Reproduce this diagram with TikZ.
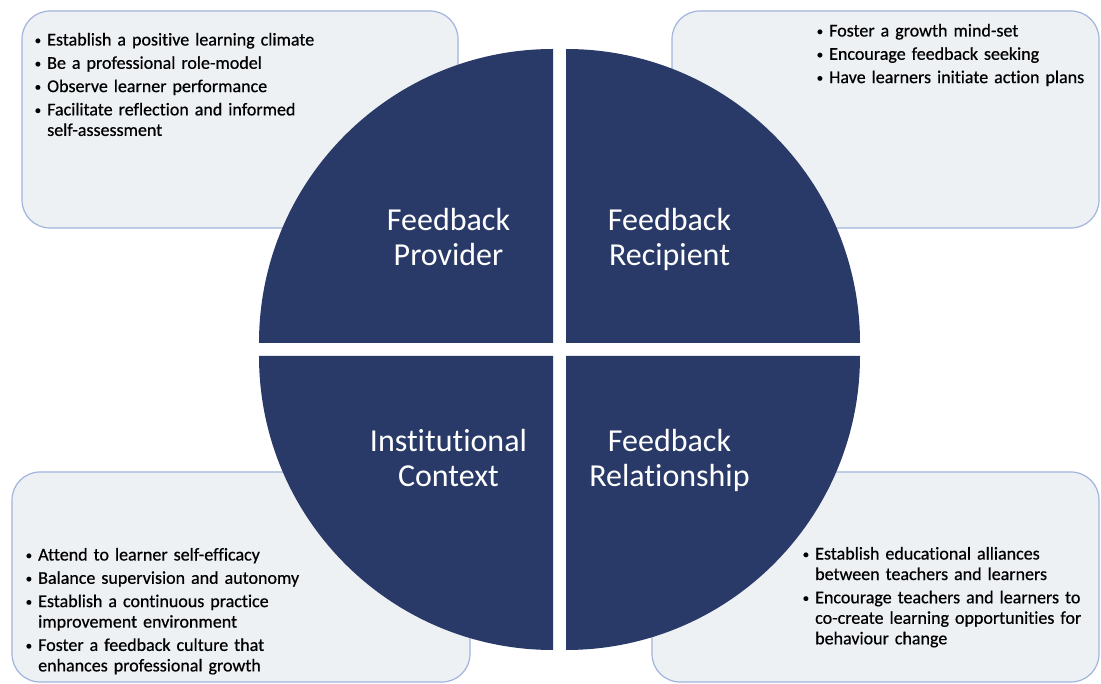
\documentclass[tikz,border=0pt]{standalone}
\usepackage{fontspec}
\setmainfont{Carlito}[Ligatures=NoCommon]
\newfontfamily\listfont{Carlito}[Ligatures=NoCommon,UprightFeatures={FakeBold=0.6}]
\definecolor{navy}{RGB}{42,58,104}
\definecolor{boxfill}{RGB}{238,241,244}
\definecolor{boxline}{RGB}{160,180,222}
\newcommand{\bitem}[1]{\par\hangindent=12pt\hangafter=1\noindent\makebox[12pt][l]{\rule{0pt}{14pt}\hspace{-0.5pt}\raisebox{1pt}{\fontsize{13}{13}\selectfont\textbullet}}#1}
\begin{document}
\begin{tikzpicture}[x=1pt,y=-1pt,
  boxst/.style={fill=boxfill,draw=boxline,line width=1.2pt,rounded corners=28pt},
  listst/.style={anchor=north west,inner sep=0pt,text width=#1,align=left,font=\listfont\fontsize{18}{20.5}\selectfont},
  quad/.style={fill=navy},
  lab/.style={text=white,font=\fontsize{32}{35}\selectfont,align=center,anchor=north,inner sep=0pt}]
\useasboundingbox (0,0) rectangle (1101,684);
\fill[white] (0,0) rectangle (1101,684);
% boxes
\draw[boxst] (22,11) rectangle (458,228);
\draw[boxst] (672,11) rectangle (1099,228);
\draw[boxst] (12,472) rectangle (470,682);
\draw[boxst] (652,472) rectangle (1099,682);
% quadrants
\fill[quad] (553,343) -- ++(-294,0) arc[start angle=180,end angle=270,radius=294] -- cycle;
\fill[quad] (566,343) -- ++(0,-294) arc[start angle=270,end angle=360,radius=294] -- cycle;
\fill[quad] (553,356) -- ++(0,294) arc[start angle=90,end angle=180,radius=294] -- cycle;
\fill[quad] (566,356) -- ++(294,0) arc[start angle=0,end angle=90,radius=294] -- cycle;
% labels
\node[lab] (provider) at (448.5,205) {\rule{0pt}{25pt}Feedback\\Provider};
\node[lab] (recipient) at (669.5,205) {\rule{0pt}{25pt}Feedback\\Recipient};
\node[lab] (context) at (448.5,426.6) {\rule{0pt}{25pt}Institutional\\Context};
\node[lab] (relation) at (669.5,426.6) {\rule{0pt}{25pt}Feedback\\Relationship};
% lists
\node[listst=400pt] (tl) at (35,22) {\setlength{\parskip}{2.8pt}%
\bitem{Establish a positive learning climate}
\bitem{Be a professional role-model}
\bitem{Observe learner performance}
\bitem{Facilitate reflection and informed\newline self-assessment}\par};
\node[listst=280pt] (tr) at (817,13) {\setlength{\parskip}{2.8pt}%
\bitem{Foster a growth mind-set}
\bitem{Encourage feedback seeking}
\bitem{Have learners initiate action plans}\par};
\node[listst=400pt] (bl) at (26,537) {\setlength{\parskip}{2.8pt}%
\bitem{Attend to learner self-efficacy}
\bitem{Balance supervision and autonomy}
\bitem{Establish a continuous practice\newline improvement environment}
\bitem{Foster a feedback culture that\newline enhances professional growth}\par};
\node[listst=290pt] (br) at (803,536) {\setlength{\parskip}{2.8pt}%
\bitem{Establish educational alliances\newline between teachers and learners}
\bitem{Encourage teachers and learners to\newline co-create learning opportunities for\newline behaviour change}\par};
\end{tikzpicture}
\end{document}
